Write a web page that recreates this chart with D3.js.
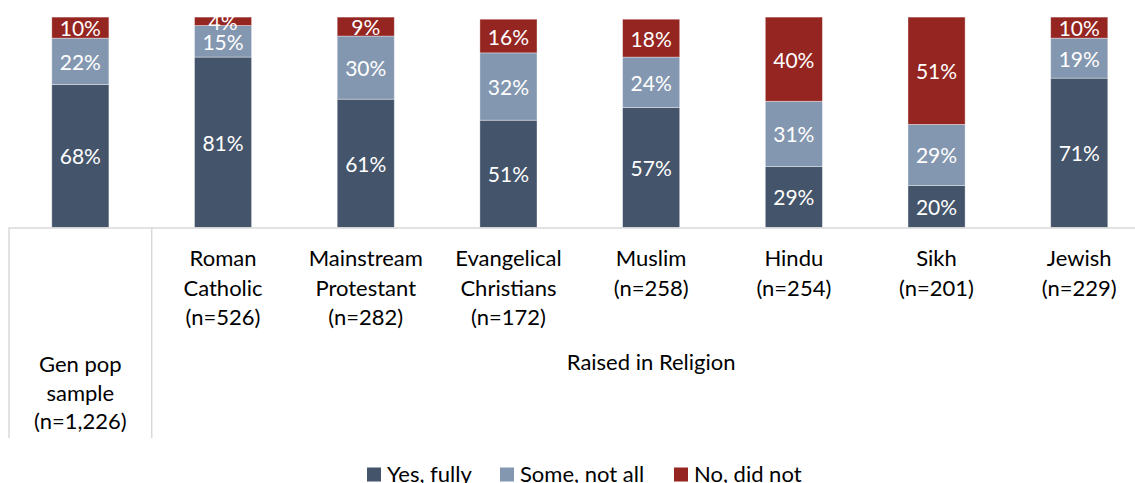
<!DOCTYPE html>
<html>
<head>
<meta charset="utf-8">
<script src="https://cdn.jsdelivr.net/npm/d3@7"></script>
<style>
  html, body { margin: 0; padding: 0; background: #fff; }
  svg { display: block; font-family: Lato, "Noto Sans", sans-serif; }
</style>
</head>
<body>
<svg id="chart" width="1135" height="483"></svg>
<script>
// Category labels, one entry per line of text
const categoryLines = [
  ["Gen pop", "sample", "(n=1,226)"],
  ["Roman", "Catholic", "(n=526)"],
  ["Mainstream", "Protestant", "(n=282)"],
  ["Evangelical", "Christians", "(n=172)"],
  ["Muslim", "(n=258)"],
  ["Hindu", "(n=254)"],
  ["Sikh", "(n=201)"],
  ["Jewish", "(n=229)"]
];
const categories = categoryLines.map(l => l.join(" "));
const groupLabel = "Raised in Religion";

const seriesNames = ["Yes, fully", "Some, not all", "No, did not"];
const yesFully   = [68, 81, 61, 51, 57, 29, 20, 71];
const someNotAll = [22, 15, 30, 32, 24, 31, 29, 19];
const noDidNot   = [10,  4,  9, 16, 18, 40, 51, 10];
const seriesColors = ["#44546A", "#8497B0", "#952521"];

const rows = categories.map((c, i) => ({
  category: c,
  "Yes, fully": yesFully[i],
  "Some, not all": someNotAll[i],
  "No, did not": noDidNot[i]
}));

const svg = d3.select("#chart");
const plotTop = 17.1, baseY = 227.5, leftX = 9;
const step = 142.7;

const x = d3.scaleBand()
  .domain(categories)
  .range([leftX, leftX + step * categories.length])
  .paddingInner(0.6)
  .paddingOuter(0.3);

const y = d3.scaleLinear().domain([0, 100]).range([baseY, plotTop]);
const color = d3.scaleOrdinal().domain(seriesNames).range(seriesColors);

const stacked = d3.stack().keys(seriesNames)(rows);

svg.append("defs").append("clipPath").attr("id", "plotClip")
  .append("rect").attr("x", 0).attr("y", plotTop).attr("width", 1135).attr("height", baseY - plotTop);

// Stacked bars
const layers = svg.append("g").selectAll("g.layer").data(stacked).join("g")
  .attr("class", "layer")
  .attr("fill", d => color(d.key));

layers.selectAll("rect").data(d => d).join("rect")
  .attr("x", d => x(d.data.category))
  .attr("width", x.bandwidth())
  .attr("y", d => y(d[1]))
  .attr("height", d => y(d[0]) - y(d[1]))
  .attr("stroke", "#ffffff")
  .attr("stroke-opacity", 0.45)
  .attr("stroke-width", 0.8);

// Value labels centred in each segment
const labels = svg.append("g").attr("clip-path", "url(#plotClip)");
stacked.forEach(layer => {
  labels.selectAll(null).data(layer).join("text")
    .attr("x", d => x(d.data.category) + x.bandwidth() / 2)
    .attr("y", d => (y(d[0]) + y(d[1])) / 2)
    .attr("text-anchor", "middle")
    .attr("dominant-baseline", "central")
    .attr("fill", "#ffffff")
    .attr("font-size", 21)
    .text(d => (d[1] - d[0]) + "%");
});

// Multi-level category axis
const axisColor = "#D9D9D9";
const axis = svg.append("g").attr("stroke", axisColor).attr("stroke-width", 1.5);
axis.append("line").attr("x1", leftX).attr("x2", 1135).attr("y1", baseY + 0.5).attr("y2", baseY + 0.5);
const axisBottom = 438;
[leftX, leftX + step].forEach(px => {
  axis.append("line").attr("x1", px).attr("x2", px).attr("y1", baseY).attr("y2", axisBottom);
});

const catText = svg.append("g").attr("fill", "#000").attr("font-size", 22).attr("text-anchor", "middle");
categoryLines.forEach((lines, i) => {
  const cx = x(categories[i]) + x.bandwidth() / 2;
  const y0 = i === 0 ? 363.5 : 257.5;
  const lh = i === 0 ? 28.5 : 29.5;
  lines.forEach((ln, j) => {
    catText.append("text")
      .attr("x", cx).attr("y", y0 + j * lh)
      .attr("dominant-baseline", "central")
      .text(ln);
  });
});
const groupStart = leftX + step, groupEnd = leftX + step * categories.length;
catText.append("text")
  .attr("x", (groupStart + groupEnd) / 2).attr("y", 361.5)
  .attr("dominant-baseline", "central")
  .text(groupLabel);

// Legend
const legendX = [367, 500, 674];
const legend = svg.append("g").attr("font-size", 22);
const items = legend.selectAll("g").data(seriesNames).join("g")
  .attr("transform", (d, i) => `translate(${legendX[i]},0)`);
items.append("rect").attr("width", 14).attr("height", 14).attr("y", 467.5)
  .attr("fill", d => color(d));
items.append("text").attr("x", 20).attr("y", 481.5).attr("fill", "#000").text(d => d);
</script>
</body>
</html>
